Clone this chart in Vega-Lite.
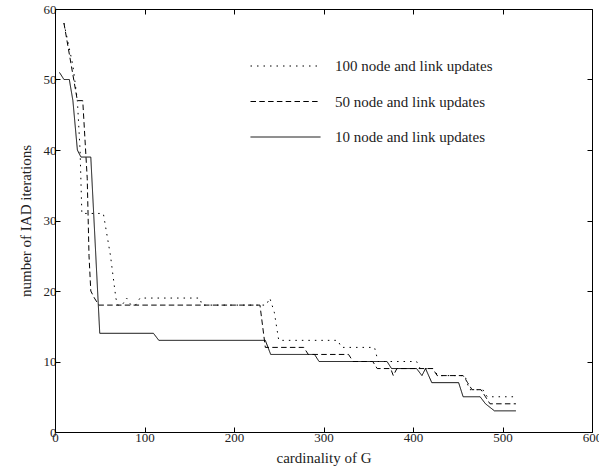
{
  "$schema": "https://vega.github.io/schema/vega-lite/v6.json",
  "autosize": "none",
  "width": 537,
  "height": 423,
  "padding": {"left": 55, "top": 9, "right": 7, "bottom": 42},
  "background": "white",
  "config": {
    "view": {"stroke": "black", "strokeWidth": 1},
    "font": "Liberation Serif",
    "axis": {
      "grid": false,
      "domainColor": "black",
      "domainWidth": 1,
      "tickColor": "black",
      "tickWidth": 1,
      "tickSize": -5,
      "labelFlush": false,
      "labelFont": "Liberation Serif",
      "labelFontSize": 13,
      "labelColor": "#222",
      "titleFont": "Liberation Serif",
      "titleFontSize": 15,
      "titleFontWeight": "normal",
      "titleColor": "#222"
    },
    "legend": {
      "labelFont": "Liberation Serif",
      "labelFontSize": 15,
      "labelColor": "#222"
    }
  },
  "datasets": {
    "lines": [
      {"series": "10 node and link updates", "x": 5, "y": 51},
      {"series": "10 node and link updates", "x": 10, "y": 50},
      {"series": "10 node and link updates", "x": 16, "y": 50},
      {"series": "10 node and link updates", "x": 20, "y": 47},
      {"series": "10 node and link updates", "x": 25, "y": 40},
      {"series": "10 node and link updates", "x": 29, "y": 39},
      {"series": "10 node and link updates", "x": 40, "y": 39},
      {"series": "10 node and link updates", "x": 50, "y": 14},
      {"series": "10 node and link updates", "x": 110, "y": 14},
      {"series": "10 node and link updates", "x": 116, "y": 13},
      {"series": "10 node and link updates", "x": 235, "y": 13},
      {"series": "10 node and link updates", "x": 241, "y": 11},
      {"series": "10 node and link updates", "x": 290, "y": 11},
      {"series": "10 node and link updates", "x": 295, "y": 10},
      {"series": "10 node and link updates", "x": 371, "y": 10},
      {"series": "10 node and link updates", "x": 376, "y": 9},
      {"series": "10 node and link updates", "x": 404, "y": 9},
      {"series": "10 node and link updates", "x": 410, "y": 8},
      {"series": "10 node and link updates", "x": 414, "y": 9},
      {"series": "10 node and link updates", "x": 421, "y": 7},
      {"series": "10 node and link updates", "x": 451, "y": 7},
      {"series": "10 node and link updates", "x": 456, "y": 5},
      {"series": "10 node and link updates", "x": 475, "y": 5},
      {"series": "10 node and link updates", "x": 481, "y": 4},
      {"series": "10 node and link updates", "x": 491, "y": 3},
      {"series": "10 node and link updates", "x": 515, "y": 3},

      {"series": "50 node and link updates", "x": 10, "y": 58},
      {"series": "50 node and link updates", "x": 25, "y": 47},
      {"series": "50 node and link updates", "x": 31, "y": 47},
      {"series": "50 node and link updates", "x": 36, "y": 36},
      {"series": "50 node and link updates", "x": 38, "y": 25},
      {"series": "50 node and link updates", "x": 40, "y": 20},
      {"series": "50 node and link updates", "x": 44, "y": 19},
      {"series": "50 node and link updates", "x": 49, "y": 18},
      {"series": "50 node and link updates", "x": 229, "y": 18},
      {"series": "50 node and link updates", "x": 235, "y": 12},
      {"series": "50 node and link updates", "x": 278, "y": 12},
      {"series": "50 node and link updates", "x": 283, "y": 11},
      {"series": "50 node and link updates", "x": 328, "y": 11},
      {"series": "50 node and link updates", "x": 333, "y": 10},
      {"series": "50 node and link updates", "x": 355, "y": 10},
      {"series": "50 node and link updates", "x": 360, "y": 9},
      {"series": "50 node and link updates", "x": 375, "y": 9},
      {"series": "50 node and link updates", "x": 378, "y": 8},
      {"series": "50 node and link updates", "x": 382, "y": 9},
      {"series": "50 node and link updates", "x": 422, "y": 9},
      {"series": "50 node and link updates", "x": 427, "y": 8},
      {"series": "50 node and link updates", "x": 456, "y": 8},
      {"series": "50 node and link updates", "x": 461, "y": 7},
      {"series": "50 node and link updates", "x": 466, "y": 6},
      {"series": "50 node and link updates", "x": 476, "y": 6},
      {"series": "50 node and link updates", "x": 481, "y": 5},
      {"series": "50 node and link updates", "x": 486, "y": 4},
      {"series": "50 node and link updates", "x": 515, "y": 4},

      {"series": "100 node and link updates", "x": 10, "y": 58},
      {"series": "100 node and link updates", "x": 20, "y": 52},
      {"series": "100 node and link updates", "x": 25, "y": 47},
      {"series": "100 node and link updates", "x": 28, "y": 40},
      {"series": "100 node and link updates", "x": 30, "y": 31},
      {"series": "100 node and link updates", "x": 54, "y": 31},
      {"series": "100 node and link updates", "x": 62, "y": 25},
      {"series": "100 node and link updates", "x": 68, "y": 19},
      {"series": "100 node and link updates", "x": 70, "y": 18},
      {"series": "100 node and link updates", "x": 75, "y": 18},
      {"series": "100 node and link updates", "x": 80, "y": 19},
      {"series": "100 node and link updates", "x": 85, "y": 18},
      {"series": "100 node and link updates", "x": 90, "y": 18},
      {"series": "100 node and link updates", "x": 95, "y": 19},
      {"series": "100 node and link updates", "x": 162, "y": 19},
      {"series": "100 node and link updates", "x": 164, "y": 18},
      {"series": "100 node and link updates", "x": 236, "y": 18},
      {"series": "100 node and link updates", "x": 240, "y": 19},
      {"series": "100 node and link updates", "x": 245, "y": 17},
      {"series": "100 node and link updates", "x": 250, "y": 13},
      {"series": "100 node and link updates", "x": 316, "y": 13},
      {"series": "100 node and link updates", "x": 320, "y": 12},
      {"series": "100 node and link updates", "x": 357, "y": 12},
      {"series": "100 node and link updates", "x": 361, "y": 10},
      {"series": "100 node and link updates", "x": 404, "y": 10},
      {"series": "100 node and link updates", "x": 408, "y": 9},
      {"series": "100 node and link updates", "x": 422, "y": 9},
      {"series": "100 node and link updates", "x": 428, "y": 8},
      {"series": "100 node and link updates", "x": 458, "y": 8},
      {"series": "100 node and link updates", "x": 463, "y": 6},
      {"series": "100 node and link updates", "x": 478, "y": 6},
      {"series": "100 node and link updates", "x": 483, "y": 5},
      {"series": "100 node and link updates", "x": 515, "y": 5}
    ]
  },
  "data": {"name": "lines"},
  "layer": [
    {
      "mark": {"type": "line", "color": "black", "strokeWidth": 1},
      "encoding": {
        "x": {
          "field": "x", "type": "quantitative",
          "scale": {"domain": [0, 600], "nice": false, "zero": false},
          "axis": {"values": [0, 100, 200, 300, 400, 500, 600], "title": "cardinality of G", "labelPadding": 4, "titlePadding": 6}
        },
        "y": {
          "field": "y", "type": "quantitative",
          "scale": {"domain": [0, 60], "nice": false},
          "axis": {"values": [0, 10, 20, 30, 40, 50, 60], "title": "number of IAD iterations", "labelPadding": 4, "titlePadding": 10}
        },
        "strokeDash": {
          "field": "series", "type": "nominal",
          "scale": {
            "domain": ["100 node and link updates", "50 node and link updates", "10 node and link updates"],
            "range": [[1.5, 5], [5.5, 3.3], [1, 0]]
          },
          "legend": {
            "title": null,
            "orient": "none",
            "legendX": 195,
            "legendY": 47,
            "symbolType": "stroke",
            "symbolSize": 4900,
            "symbolStrokeColor": "black",
            "symbolStrokeWidth": 1,
            "labelOffset": 14,
            "clipHeight": 20,
            "rowPadding": 15.5
          }
        },
        "detail": {"field": "series"}
      }
    },
    {
      "mark": {"type": "line", "opacity": 0},
      "encoding": {
        "x": {
          "field": "x", "type": "quantitative",
          "axis": {"orient": "top", "values": [0, 100, 200, 300, 400, 500, 600], "labels": false, "title": null, "domain": false}
        },
        "y": {
          "field": "y", "type": "quantitative",
          "axis": {"orient": "right", "values": [0, 10, 20, 30, 40, 50, 60], "labels": false, "title": null, "domain": false}
        },
        "detail": {"field": "series"}
      }
    }
  ],
  "resolve": {"axis": {"x": "independent", "y": "independent"}}
}
